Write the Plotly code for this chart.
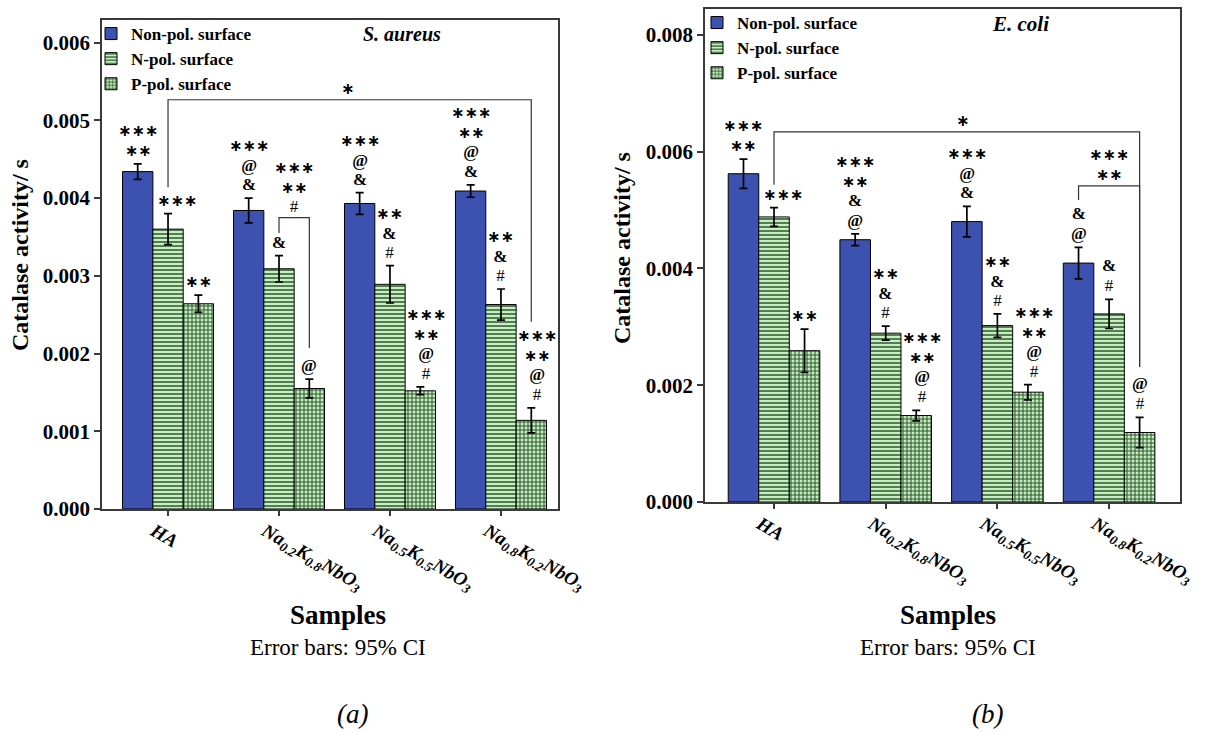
import plotly.graph_objects as go

# ---------------- data ----------------
categories = ["HA", "Na0.2K0.8NbO3", "Na0.5K0.5NbO3", "Na0.8K0.2NbO3"]
tick_labels = [
    "<b><i>HA</i></b>",
    "<b><i>Na<sub>0.2</sub>K<sub>0.8</sub>NbO<sub>3</sub></i></b>",
    "<b><i>Na<sub>0.5</sub>K<sub>0.5</sub>NbO<sub>3</sub></i></b>",
    "<b><i>Na<sub>0.8</sub>K<sub>0.2</sub>NbO<sub>3</sub></i></b>",
]
series_names = ["Non-pol. surface", "N-pol. surface", "P-pol. surface"]

# S. aureus
sa_non = [0.00434, 0.00384, 0.00393, 0.00409]
sa_non_err = [0.00010, 0.00016, 0.00014, 0.00008]
sa_n = [0.00360, 0.00309, 0.00289, 0.00263]
sa_n_err = [0.00020, 0.00017, 0.00024, 0.00020]
sa_p = [0.00264, 0.00155, 0.00152, 0.00114]
sa_p_err = [0.00011, 0.00012, 0.00005, 0.00016]

# E. coli
ec_non = [0.00562, 0.00449, 0.00480, 0.00409]
ec_non_err = [0.00025, 0.00010, 0.00026, 0.00027]
ec_n = [0.00488, 0.00289, 0.00302, 0.00322]
ec_n_err = [0.00016, 0.00012, 0.00020, 0.00025]
ec_p = [0.00259, 0.00148, 0.00188, 0.00119]
ec_p_err = [0.00037, 0.00009, 0.00013, 0.00026]

# significance marks, listed from bottom to top, per series per category
sa_marks = [
    [["**", "***"], ["&", "@", "***"], ["&", "@", "***"], ["&", "@", "**", "***"]],
    [["***"], ["&"], ["#", "&", "**"], ["#", "&", "**"]],
    [["**"], ["@"], ["#", "@", "**", "***"], ["#", "@", "**", "***"]],
]
ec_marks = [
    [["**", "***"], ["@", "&", "**", "***"], ["&", "@", "***"], ["@", "&"]],
    [["***"], ["#", "&", "**"], ["#", "&", "**"], ["#", "&"]],
    [["**"], ["#", "@", "**", "***"], ["#", "@", "**", "***"], ["#", "@"]],
]

# ---------------- styling ----------------
W, H = 1207, 732
SERIF = "Times New Roman, Liberation Serif, serif"
BLUE = "#3d52b0"
LGREEN = "#c9efc0"
DGREEN = "#2b5a31"
AXC = "#3a3a3a"
BARGAP = 0.18
OFF = (1 - BARGAP) / 3  # bar centre offset in category units

panels = [
    dict(xa="x", ya="y", xd=(102, 558), yd=(20, 509), yr=(0, 0.00629), dtick=0.001,
         xr=(-0.595, 3.514), legend="legend", leg_xy=(91, 16),
         vals=[sa_non, sa_n, sa_p], errs=[sa_non_err, sa_n_err, sa_p_err], marks=sa_marks,
         species="<b><i>S. aureus</i></b>", sp_xy=(402, 34), sp_size=20,
         ytitle_xy=(20, 255), bottom_cx=338, tag="a", tag_x=352),
    dict(xa="x2", ya="y2", xd=(705, 1180), yd=(9, 502), yr=(0, 0.00844), dtick=0.002,
         xr=(-0.618, 3.635), legend="legend2", leg_xy=(697, 5),
         vals=[ec_non, ec_n, ec_p], errs=[ec_non_err, ec_n_err, ec_p_err], marks=ec_marks,
         species="<b><i>E. coli</i></b>", sp_xy=(1020, 24), sp_size=21,
         ytitle_xy=(622, 248), bottom_cx=948, tag="b", tag_x=987),
]

patterns = [
    dict(color=BLUE, pattern=None),
    dict(color=LGREEN, pattern=dict(shape="-", fgcolor=DGREEN, bgcolor=LGREEN, size=4, solidity=0.38, fillmode="replace")),
    dict(color=LGREEN, pattern=dict(shape="+", fgcolor=DGREEN, bgcolor=LGREEN, size=4, solidity=0.45, fillmode="replace")),
]

fig = go.Figure()
idx = list(range(len(categories)))

for p in panels:
    for s in range(3):
        marker = dict(color=patterns[s]["color"], line=dict(color="black", width=1))
        if patterns[s]["pattern"]:
            marker["pattern"] = patterns[s]["pattern"]
        fig.add_trace(go.Bar(
            x=categories, y=p["vals"][s], name=series_names[s],
            xaxis=p["xa"], yaxis=p["ya"], legend=p["legend"],
            marker=marker,
            error_y=dict(type="data", array=p["errs"][s], color="black", thickness=1.7, width=4),
        ))

layout = dict(
    width=W, height=H, margin=dict(l=0, r=0, t=0, b=0, autoexpand=False),
    paper_bgcolor="white", plot_bgcolor="white",
    barmode="group", bargap=BARGAP, bargroupgap=0,
    font=dict(family=SERIF, color="black"),
    showlegend=True,
)

annotations = []
shapes = []

STACK_BASE = 15   # sets the line pitch of stacked marks (1.3 x this, in px)


def mark_line(m):
    if m.startswith("*"):
        return ('<span style="font-family:DejaVu Sans;font-size:16px"><b>'
                + "\u2217" * len(m) + "</b></span>")
    if m == "#":
        return '<span style="font-size:17px">#</span>'
    return '<span style="font-size:17px"><b>' + m + "</b></span>"


def stack_text(marks_bottom_up):
    return "<br>".join(mark_line(m) for m in reversed(marks_bottom_up))


def paper_text(x, y, text, size, angle=0):
    annotations.append(dict(x=x / W, y=1 - y / H, xref="paper", yref="paper",
                            xanchor="center", yanchor="middle", text=text, textangle=angle,
                            showarrow=False, font=dict(family=SERIF, size=size, color="black")))


for k, p in enumerate(panels):
    sfx = "" if k == 0 else "2"
    x0, x1 = p["xd"]
    y0, y1 = p["yd"]
    layout["xaxis" + sfx] = dict(
        domain=[x0 / W, x1 / W], anchor="y" + sfx, range=list(p["xr"]), automargin=False,
        type="category", tickvals=categories, ticktext=tick_labels, tickangle=30,
        tickfont=dict(family=SERIF, size=19, color="black"),
        ticklabelshift=-14, ticklabelstandoff=-3,
        showline=True, mirror=True, linecolor=AXC, linewidth=1.5,
        ticks="outside", ticklen=5, tickcolor=AXC, tickwidth=1.5, showgrid=False,
    )
    layout["yaxis" + sfx] = dict(
        domain=[1 - y1 / H, 1 - y0 / H], anchor="x" + sfx, range=list(p["yr"]), automargin=False,
        dtick=p["dtick"], tickformat=".3f", tick0=0,
        tickfont=dict(family=SERIF, size=21, color="black", weight="bold"),
        showline=True, mirror=True, linecolor=AXC, linewidth=1.5,
        ticks="outside", ticklen=6, tickcolor=AXC, tickwidth=1.5,
        showgrid=False, zeroline=False,
    )
    layout[p["legend"]] = dict(
        x=p["leg_xy"][0] / W, y=1 - p["leg_xy"][1] / H, xanchor="left", yanchor="top",
        bgcolor="rgba(0,0,0,0)", font=dict(family=SERIF, size=17, color="black", weight="bold"),
        itemwidth=30, tracegroupgap=0,
    )

    paper_text(p["sp_xy"][0], p["sp_xy"][1], p["species"], p["sp_size"])
    paper_text(p["ytitle_xy"][0], p["ytitle_xy"][1], "<b>Catalase activity/ s</b>", 24, angle=-90)
    paper_text(p["bottom_cx"], 615, "<b>Samples</b>", 27)
    paper_text(p["bottom_cx"], 647, "Error bars: 95% CI", 23)
    paper_text(p["tag_x"], 714, "<i>(" + p["tag"] + ")</i>", 27)

    # significance marks above bars (one stacked text per bar)
    for s in range(3):
        for c in idx:
            top = p["vals"][s][c] + p["errs"][s][c]
            xs = 0
            if c == 0 and s == 1:
                xs = 9
            elif s == 2 and len(p["marks"][s][c]) >= 3:
                xs = 6
            annotations.append(dict(
                x=c + (s - 1) * OFF, y=top, xref=p["xa"], yref=p["ya"],
                text=stack_text(p["marks"][s][c]), showarrow=False,
                xanchor="center", yanchor="bottom", yshift=2, xshift=xs,
                font=dict(family=SERIF, size=STACK_BASE, color="black")))


def bracket(xa, ya, xl, yl, xr, yr_, ytop):
    shapes.append(dict(type="path", xref=xa, yref=ya,
                       path=f"M {xl},{yl} L {xl},{ytop} L {xr},{ytop} L {xr},{yr_}",
                       line=dict(color="#333333", width=1.2)))


def label(xa, ya, x, y, marks_bottom_up):
    annotations.append(dict(x=x, y=y, xref=xa, yref=ya, text=stack_text(marks_bottom_up),
                            showarrow=False, xanchor="center", yanchor="bottom", yshift=0,
                            font=dict(family=SERIF, size=STACK_BASE, color="black")))


# S. aureus brackets
bracket("x", "y", 0, 0.00414, 3 + OFF, 0.00241, 0.005264)
label("x", "y", 1.62, 0.005264, ["*"])
bracket("x", "y", 1, 0.00355, 1 + OFF, 0.00207, 0.003749)
label("x", "y", 1 + OFF / 2, 0.003749, ["#", "**", "***"])

# E. coli brackets
bracket("x2", "y2", 0, 0.00543, 3 + OFF, 0.00231, 0.006336)
label("x2", "y2", 1.69, 0.006336, ["*"])
bracket("x2", "y2", 3 - OFF, 0.00517, 3 + OFF, 0.00231, 0.005411)
label("x2", "y2", 3.0, 0.005411, ["**", "***"])

layout["annotations"] = annotations
layout["shapes"] = shapes
fig.update_layout(**layout)
fig.write_html("out.html")
